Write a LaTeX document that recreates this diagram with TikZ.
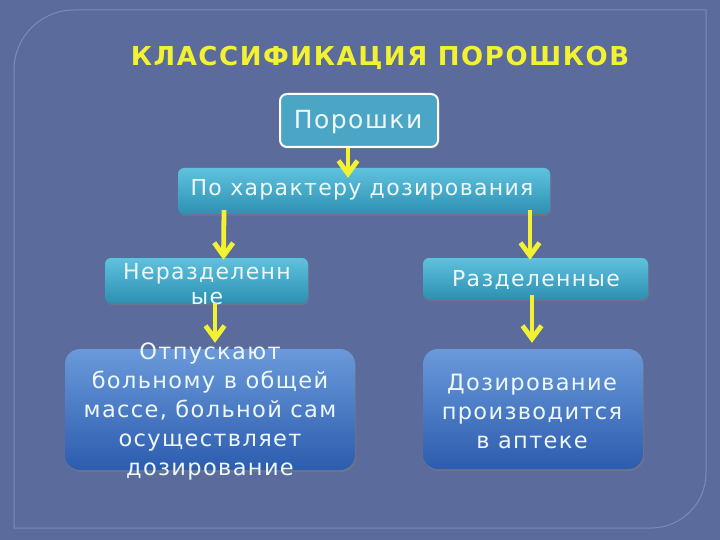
\documentclass[tikz,border=0pt]{standalone}
\usepackage{fontspec}
\setmainfont{DejaVu Sans}[LetterSpace=6]
\newfontfamily\titlefont{DejaVu Sans Bold}[LetterSpace=6]
\usetikzlibrary{arrows.meta,shadows}
\definecolor{bg}{HTML}{5B6B9B}
\definecolor{frameline}{HTML}{7B8BBB}
\definecolor{tealbox}{HTML}{4AA6C4}
\definecolor{tealtop}{HTML}{5EC2DE}
\definecolor{tealbot}{HTML}{2E90B2}
\definecolor{bluetop}{HTML}{6A9ADA}
\definecolor{bluebot}{HTML}{2C5CAE}
\definecolor{ylw}{HTML}{F2F232}
\definecolor{txt}{HTML}{EEF8FA}
\tikzset{
  tbox/.style={rounded corners=6pt, top color=tealtop, bottom color=tealbot, draw=none,
    drop shadow={shadow xshift=1pt, shadow yshift=-2pt, opacity=0.45}},
  bbox/.style={rounded corners=15pt, top color=bluetop, bottom color=bluebot, draw=none,
    drop shadow={shadow xshift=1pt, shadow yshift=-2pt, opacity=0.45}},
  lbl/.style={text=txt, align=center, inner sep=0pt},
  arr/.style={draw=ylw, line width=4.8pt, -{Straight Barb[length=13pt,width=19pt]}},
}
\begin{document}
\begin{tikzpicture}[x=1pt,y=-1pt]
\fill[bg] (0,0) rectangle (720,540);
\useasboundingbox (0,0) rectangle (720,540);
\draw[frameline, line width=1pt] (14,528) -- (14,70) arc[start angle=180,end angle=270,radius=60]
  -- (706,10) -- (706,473) arc[start angle=0,end angle=90,radius=55] -- cycle;
\node[text=ylw, font=\titlefont\fontsize{26}{30}\selectfont] (title) at (380,58) {КЛАССИФИКАЦИЯ ПОРОШКОВ};
\node[rounded corners=7pt, fill=tealbox, draw=white, line width=2pt, minimum width=158pt, minimum height=53pt,
  drop shadow={shadow xshift=1.5pt, shadow yshift=-2pt, opacity=0.5}] (por) at (359,120.5) {};
\node[lbl, font=\fontsize{25}{29}\selectfont] (port) at (358,122) {Порошки};
\node[tbox, minimum width=372pt, minimum height=46pt] (har) at (364,191) {};
\node[lbl, font=\fontsize{22}{26}\selectfont] (hart) at (362,190) {По характеру дозирования};
\node[tbox, minimum width=203pt, minimum height=45pt] (ner) at (206.5,280.5) {};
\node[lbl, font=\fontsize{22}{25}\selectfont] (nert) at (207,284) {Неразделенн\\ые};
\node[tbox, minimum width=225pt, minimum height=41pt] (raz) at (535.5,278.5) {};
\node[lbl, font=\fontsize{22}{26}\selectfont] (razt) at (536,280) {Разделенные};
\node[bbox, minimum width=290pt, minimum height=121pt] (bl) at (210,409.5) {};
\node[lbl, font=\fontsize{22.5}{29}\selectfont] (blt) at (210,411) {Отпускают\\больному в общей\\массе, больной сам\\осуществляет\\дозирование};
\node[bbox, minimum width=220pt, minimum height=120pt] (br) at (533,409) {};
\node[lbl, font=\fontsize{22.5}{29}\selectfont] (brt) at (532,411) {Дозирование\\производится\\в аптеке};
\draw[arr] ([xshift=-11pt]por.south) -- ([xshift=-16pt,yshift=-10pt]har.north);
\draw[arr] ([xshift=-140pt,yshift=4pt]har.south) -- ([xshift=17pt,yshift=-2pt]ner.north);
\draw[arr] ([xshift=166pt,yshift=4pt]har.south) -- ([xshift=-5.5pt,yshift=-2pt]raz.north);
\draw[arr] ([xshift=8.5pt]ner.south) -- ([xshift=5pt,yshift=6pt]bl.north);
\draw[arr] ([xshift=-3.5pt,yshift=4pt]raz.south) -- ([xshift=-1pt,yshift=6pt]br.north);
\end{tikzpicture}
\end{document}
